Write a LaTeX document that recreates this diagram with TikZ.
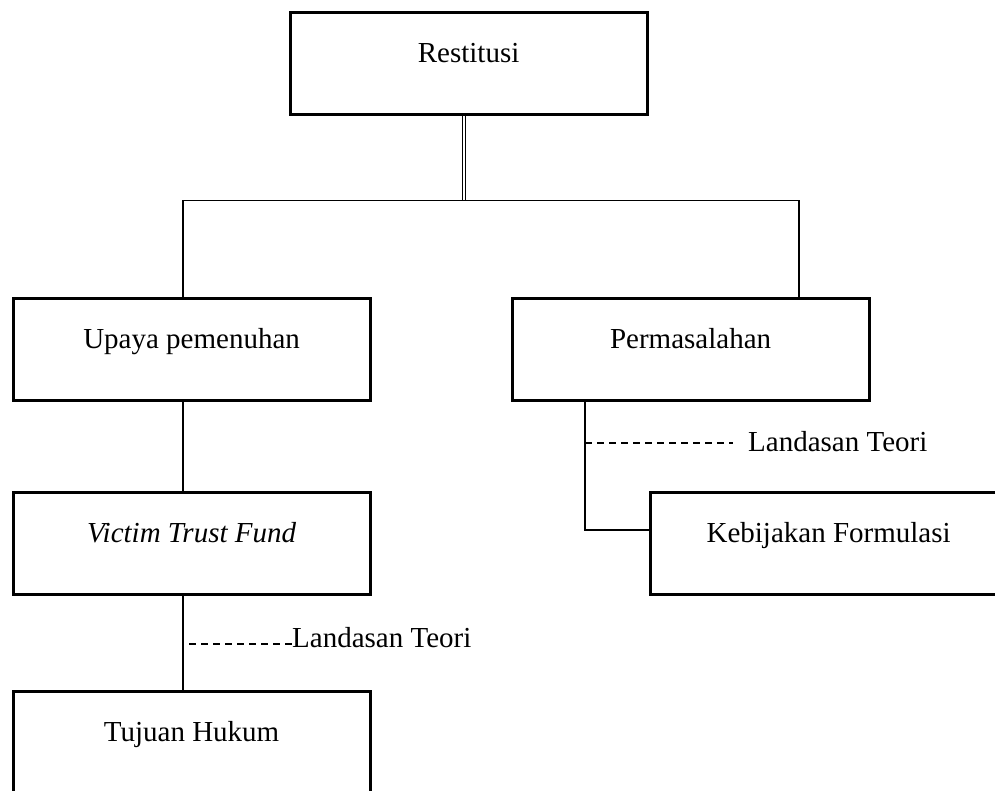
\documentclass[tikz,border=0pt]{standalone}
\usepackage{fontspec}
\setmainfont{Liberation Serif}
\begin{document}
\begin{tikzpicture}[x=1pt,y=-1pt,
  boxstyle/.style={draw=black,line width=3.2pt,rectangle,anchor=north west,
    minimum width=357pt,inner xsep=0pt,inner ysep=0pt,
    text height=50.5pt,text depth=51.5pt,font=\fontsize{29}{34}\selectfont},
  conn/.style={draw=black,line width=1.2pt},
  dashconn/.style={draw=black,line width=1.2pt,dash pattern=on 7pt off 5pt},
  lbl/.style={anchor=base west,inner sep=0pt,font=\fontsize{29}{34}\selectfont}]
\useasboundingbox (0,0) rectangle (995,790);
\node[boxstyle] (R) at (288.5,10.5) {Restitusi};
\node[boxstyle] (U) at (11.5,296.5) {Upaya pemenuhan};
\node[boxstyle] (P) at (510.5,296.5) {Permasalahan};
\node[boxstyle] (V) at (11.5,490.5) {\itshape Victim Trust Fund};
\node[boxstyle] (T) at (11.5,689.5) {Tujuan Hukum};
\node[boxstyle] (K) at (648.5,490.5) {Kebijakan Formulasi};
\coordinate (bca) at (462.8,200.5);
\coordinate (bcb) at (465.6,200.5);
\coordinate (bl) at (183,200.5);
\coordinate (br) at (799,200.5);
\coordinate (pl) at (585,530);
\coordinate (d1s) at (585,443);
\coordinate (d2s) at (189,644);
\node[lbl] (L1) at (748,451) {Landasan Teori};
\node[lbl] (L2) at (292,647) {Landasan Teori};
\draw[conn] (bca |- R.south) -- (bca);
\draw[conn] (bcb |- R.south) -- (bcb);
\draw[conn] (bl |- U.north) -- (bl) -- (br) -- (br |- P.north);
\draw[conn] (bl |- U.south) -- (bl |- V.north);
\draw[conn] (bl |- V.south) -- (bl |- T.north);
\draw[conn] (pl |- P.south) -- (pl) -- (pl -| K.west);
\draw[dashconn] (d1s) -- (733,443);
\draw[dashconn] (d2s) -- (L2.west |- d2s);
\end{tikzpicture}
\end{document}
